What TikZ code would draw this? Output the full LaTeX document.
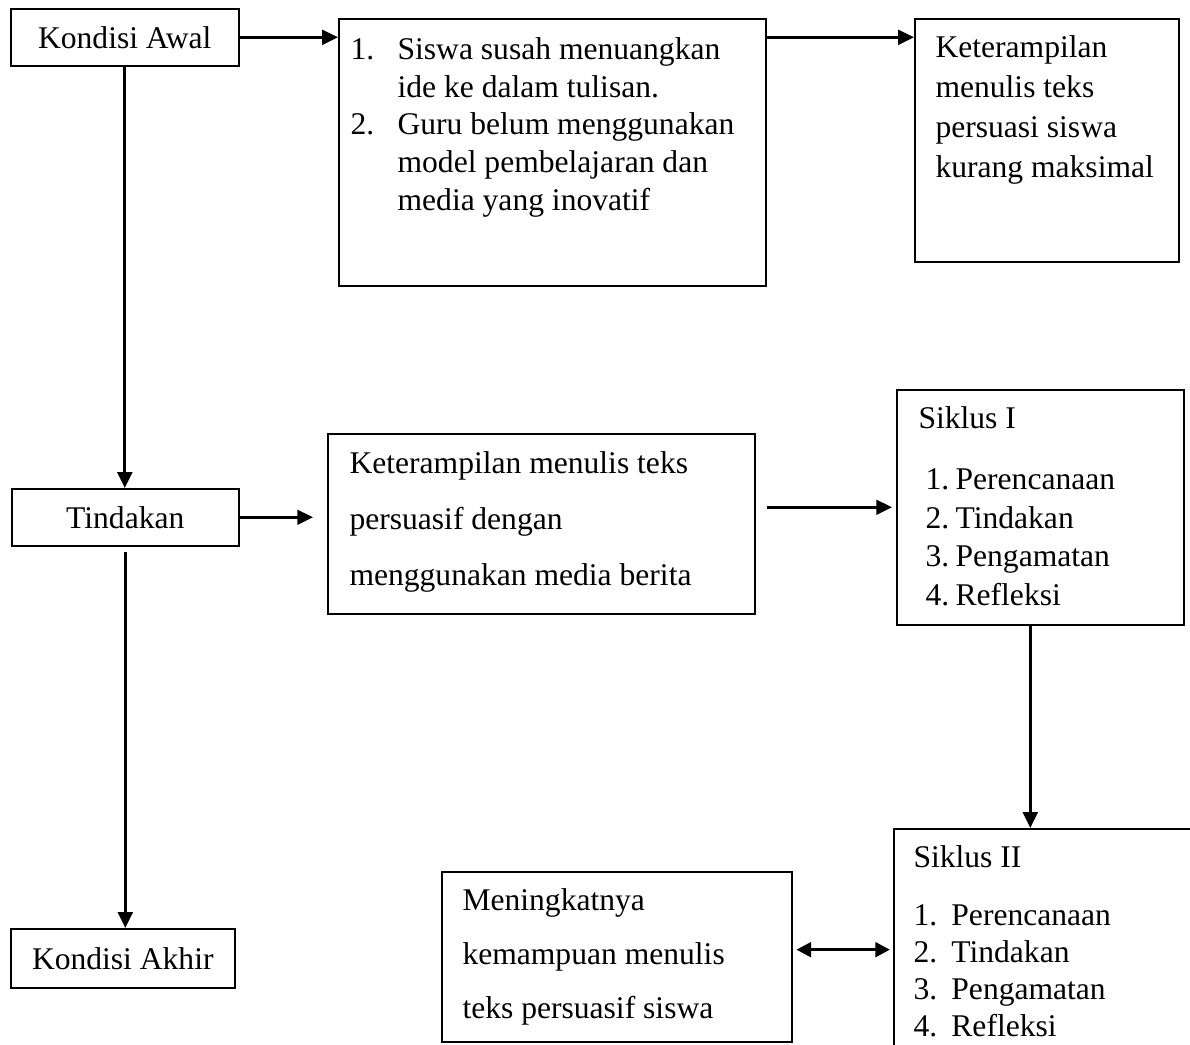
\documentclass[tikz,border=0pt]{standalone}
\usepackage{fontspec}
\setmainfont{Liberation Serif}
\usetikzlibrary{arrows.meta}

\newcommand{\lineup}{\rule{0pt}{9pt}}
\newcommand{\nomor}[2]{\makebox[#1][l]{#2}}

\begin{document}
\begin{tikzpicture}[x=0.38pt, y=-0.38pt,
  font=\fontsize{12}{14.4}\selectfont,
  box/.style={draw, line width=0.6pt, inner sep=0pt, anchor=north west},
  boxsize/.style 2 args={minimum width=#1*0.38pt, minimum height=#2*0.38pt},
  txt/.style={anchor=north west, inner sep=0pt, align=left},
  arr/.style={line width=1pt, -{Triangle[length=6pt, width=5.6pt]}},
  darr/.style={line width=1pt, {Triangle[length=5.5pt, width=5.6pt]}-{Triangle[length=5.5pt, width=5.6pt]}}]

% define picture size
\useasboundingbox (0,0) rectangle (1190,1045);
\clip (0,0) rectangle (1190,1045);

% define boxes
\node[box, boxsize={228}{57}] (awal) at (10,8) {Kondisi Awal};
\node[box, boxsize={427}{267}] (masalah) at (338,18) {};
\node[box, boxsize={264}{243}] (dampak) at (914,18) {};
\node[box, boxsize={227}{57}] (tindakan) at (11,488) {Tindakan};
\node[box, boxsize={427}{180}] (solusi) at (327,433) {};
\node[box, boxsize={287}{235}] (siklusI) at (896,389) {};
\node[box, boxsize={224}{59}] (akhir) at (10,928) {Kondisi Akhir};
\node[box, boxsize={350}{170}] (hasil) at (441,871) {};
\node[box, boxsize={340}{260}] (siklusII) at (893,828) {};

% box texts
\node[txt] (masalahtxt) at (350,35) {\lineup\nomor{17.9pt}{1.}Siswa susah menuangkan\\
  \hspace*{17.9pt}ide ke dalam tulisan.\\
  \nomor{17.9pt}{2.}Guru belum menggunakan\\
  \hspace*{17.9pt}model pembelajaran dan\\
  \hspace*{17.9pt}media yang inovatif};
\node[txt, font=\fontsize{12}{15.2}\selectfont] (dampaktxt) at (935,33) {\lineup Keterampilan\\ menulis teks\\ persuasi siswa\\ kurang maksimal};
\node[txt, font=\fontsize{12}{21.3}\selectfont] (solusitxt) at (349,449) {\lineup Keterampilan menulis teks\\
  persuasif dengan\\ menggunakan media berita};
\node[txt, font=\fontsize{12}{14.7}\selectfont] (siklusItxt) at (918,404) {\lineup Siklus I\\[8.6pt]
  \hspace*{2.7pt}\nomor{11.4pt}{1.}Perencanaan\\
  \hspace*{2.7pt}\nomor{11.4pt}{2.}Tindakan\\
  \hspace*{2.7pt}\nomor{11.4pt}{3.}Pengamatan\\
  \hspace*{2.7pt}\nomor{11.4pt}{4.}Refleksi};
\node[txt, font=\fontsize{12}{14.1}\selectfont] (siklusIItxt) at (913,843) {\lineup Siklus II\\[7.9pt]
  \nomor{14.4pt}{1.}Perencanaan\\
  \nomor{14.4pt}{2.}Tindakan\\
  \nomor{14.4pt}{3.}Pengamatan\\
  \nomor{14.4pt}{4.}Refleksi};
\node[txt, font=\fontsize{12}{20.5}\selectfont] (hasiltxt) at (462,886) {\lineup Meningkatnya\\
  kemampuan menulis\\ teks persuasif siswa};

% draw arrows
\draw[arr] (awal.east) -- (awal.east -| masalah.west);
\draw[arr] (awal.east -| masalah.east) -- (awal.east -| dampak.west);
\draw[arr] (awal.south) -- (awal.south |- tindakan.north);
\draw[arr, shorten >=5.3pt] (tindakan.east) -- (tindakan.east -| solusi.west);
\draw[arr, shorten <=4.2pt, shorten >=1.5pt] (solusi.east |- siklusI.west) -- (siklusI.west);
\draw[arr, shorten <=1.9pt] (tindakan.south) -- (tindakan.south |- akhir.north);
\draw[arr] ([xshift=-3.8pt]siklusI.south) -- ([xshift=-3.8pt]siklusI.south |- siklusII.north);
\draw[darr, shorten <=1.5pt, shorten >=1.2pt] ([yshift=2.7pt]hasil.east) -- ([yshift=2.7pt]hasil.east -| siklusII.west);

\end{tikzpicture}
\end{document}
